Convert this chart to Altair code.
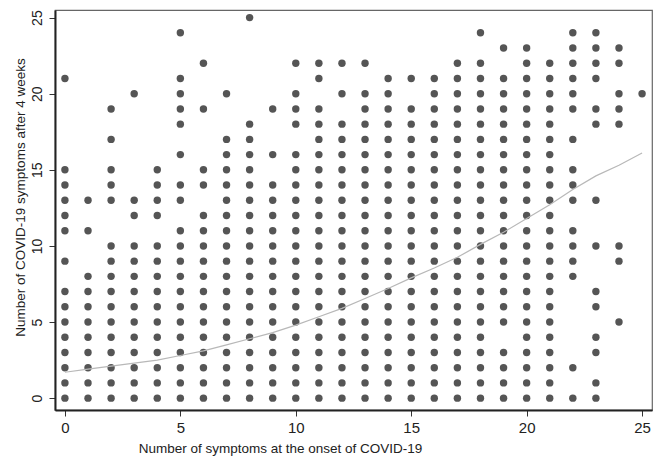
import altair as alt
import pandas as pd

# Number of symptoms after 4 weeks observed for each onset count (x = 0 .. 25)
onset_0 = [0, 1, 2, 3, 4, 5, 6, 7, 9, 11, 12, 13, 14, 15, 21]
onset_1 = [0, 1, 2, 3, 4, 5, 6, 7, 8, 11, 13]
onset_2 = [0, 1, 2, 3, 4, 5, 6, 7, 8, 9, 10, 13, 14, 15, 17, 19]
onset_3 = [0, 1, 2, 3, 4, 5, 6, 7, 8, 9, 10, 12, 13, 20]
onset_4 = [0, 1, 2, 3, 4, 5, 6, 7, 8, 9, 10, 12, 13, 14, 15]
onset_5 = [0, 1, 2, 3, 4, 5, 6, 7, 8, 9, 10, 11, 13, 14, 16, 18, 19, 20, 21, 24]
onset_6 = [0, 1, 2, 3, 4, 5, 6, 7, 8, 9, 10, 11, 12, 14, 15, 19, 22]
onset_7 = [0, 1, 2, 3, 4, 5, 6, 7, 8, 9, 10, 11, 12, 13, 14, 15, 16, 17, 20]
onset_8 = [0, 1, 2, 3, 4, 5, 6, 7, 8, 9, 10, 11, 12, 13, 14, 15, 16, 17, 18, 25]
onset_9 = [0, 1, 2, 3, 4, 5, 6, 7, 8, 9, 10, 11, 12, 13, 14, 16, 19]
onset_10 = [0, 1, 2, 3, 4, 5, 6, 7, 8, 9, 10, 11, 12, 13, 14, 15, 16, 18, 19, 20, 22]
onset_11 = [0, 1, 2, 3, 4, 5, 6, 7, 8, 9, 10, 11, 12, 13, 14, 15, 16, 17, 18, 19, 21, 22]
onset_12 = [0, 1, 2, 3, 4, 5, 6, 7, 8, 9, 10, 11, 12, 13, 14, 15, 16, 17, 18, 20, 22]
onset_13 = [0, 1, 2, 3, 4, 5, 6, 7, 8, 9, 10, 11, 12, 13, 14, 15, 16, 17, 18, 19, 20, 22]
onset_14 = [0, 1, 2, 3, 4, 5, 6, 7, 8, 9, 10, 11, 12, 13, 14, 15, 16, 17, 18, 19, 20, 21]
onset_15 = [0, 1, 2, 3, 4, 5, 6, 7, 8, 9, 10, 11, 12, 13, 14, 15, 16, 17, 18, 19, 21]
onset_16 = [0, 1, 2, 3, 4, 5, 6, 7, 8, 9, 10, 11, 12, 13, 14, 15, 16, 17, 18, 19, 20, 21]
onset_17 = [0, 1, 2, 3, 4, 5, 6, 7, 8, 9, 10, 11, 12, 13, 14, 15, 16, 17, 18, 19, 20, 21, 22]
onset_18 = [0, 1, 2, 3, 4, 5, 6, 7, 8, 9, 10, 11, 12, 13, 14, 15, 16, 17, 18, 19, 20, 21, 22, 24]
onset_19 = [0, 1, 2, 3, 5, 6, 7, 8, 9, 10, 11, 12, 13, 14, 15, 16, 17, 18, 19, 20, 21, 23]
onset_20 = [0, 1, 2, 3, 4, 5, 6, 7, 8, 9, 10, 11, 12, 13, 14, 15, 16, 17, 18, 19, 20, 21, 22, 23]
onset_21 = [0, 1, 2, 3, 4, 5, 6, 7, 8, 9, 10, 11, 12, 13, 14, 15, 16, 17, 18, 19, 20, 21, 22]
onset_22 = [0, 2, 8, 9, 10, 11, 13, 14, 15, 17, 19, 20, 21, 22, 23, 24]
onset_23 = [0, 1, 3, 4, 6, 7, 10, 13, 18, 19, 21, 22, 23, 24]
onset_24 = [5, 9, 10, 18, 19, 20, 22, 23]
onset_25 = [20]

# Fitted (smoothed) curve
curve_x = [0, 1, 2, 3, 4, 5, 6, 7, 8, 9, 10, 11, 12, 13, 14, 15, 16, 17, 18, 19, 20, 21, 22, 23, 24, 25]
curve_y = [1.7, 1.9, 2.1, 2.3, 2.5, 2.8, 3.1, 3.5, 3.9, 4.3, 4.8, 5.35, 5.9, 6.55, 7.2, 7.9,
           8.55, 9.25, 10.1, 10.9, 11.8, 12.7, 13.7, 14.6, 15.3, 16.1]

x_ticks = [0, 5, 10, 15, 20, 25]
y_ticks = [0, 5, 10, 15, 20, 25]

columns = [onset_0, onset_1, onset_2, onset_3, onset_4, onset_5, onset_6, onset_7, onset_8,
           onset_9, onset_10, onset_11, onset_12, onset_13, onset_14, onset_15, onset_16,
           onset_17, onset_18, onset_19, onset_20, onset_21, onset_22, onset_23, onset_24,
           onset_25]
pts = pd.DataFrame([{"onset": i, "after": v} for i, col in enumerate(columns) for v in col])
curve = pd.DataFrame({"onset": curve_x, "fit": curve_y})

FONT = "Liberation Sans, Arial"

xscale = alt.Scale(domain=[-0.43, 25.43], nice=False, zero=False)
yscale = alt.Scale(domain=[-0.78, 25.5], nice=False, zero=False)

xaxis = alt.Axis(values=x_ticks, title="Number of symptoms at the onset of COVID-19",
                 grid=False, tickSize=6, labelPadding=4, labelFontSize=15,
                 titleFontSize=13.5, titleX=225, titleY=42, titleBaseline="alphabetic")
yaxis = alt.Axis(values=y_ticks, title="Number of COVID-19 symptoms after 4 weeks",
                 grid=False, tickSize=6, labelAngle=270, labelAlign="center",
                 labelBaseline="bottom", labelPadding=5, labelFontSize=14,
                 titleFontSize=13.5, titleX=-28, titleY=187, titleBaseline="bottom")

points = alt.Chart(pts).mark_point(
    filled=True, shape="circle", size=55, color="#555555", opacity=1
).encode(
    x=alt.X("onset:Q", scale=xscale, axis=xaxis),
    y=alt.Y("after:Q", scale=yscale, axis=yaxis),
)

line = alt.Chart(curve).mark_line(color="#b8b8b8", strokeWidth=1.2).encode(
    x=alt.X("onset:Q", scale=xscale),
    y=alt.Y("fit:Q", scale=yscale),
)

chart = (points + line).properties(
    width=597, height=400,
    autosize=alt.AutoSizeParams(type="none"),
    padding={"left": 55, "top": 10, "right": 9, "bottom": 46},
    background="white",
).configure_view(
    stroke="#666666", strokeWidth=1.2
).configure_axis(
    labelFont=FONT, titleFont=FONT,
    labelColor="#222222", titleColor="#222222", titleFontWeight="normal",
    domainColor="#222222", domainWidth=2, tickColor="#333333", tickWidth=1,
)

chart.save("out.html", embed_options={"renderer": "svg", "actions": False})
